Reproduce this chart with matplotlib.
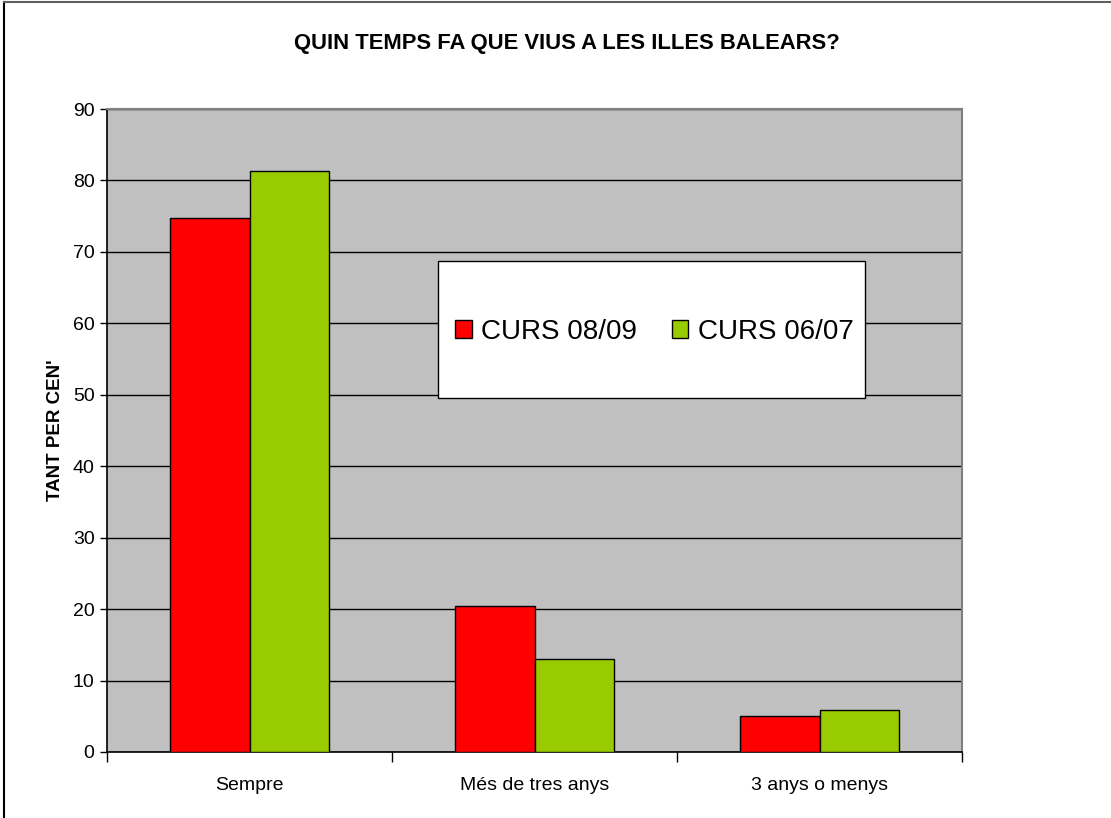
import matplotlib
matplotlib.use("Agg")
import matplotlib.pyplot as plt
import numpy as np
from matplotlib.lines import Line2D
from matplotlib.patches import Rectangle

categories = ["Sempre", "Més de tres anys", "3 anys o menys"]
series_names = ["CURS 08/09", "CURS 06/07"]
curs_0809 = [74.8, 20.4, 5.1]
curs_0607 = [81.3, 13.0, 5.9]
colors = ["#FF0000", "#99CC00"]
yticks = list(range(0, 100, 10))

plt.rcParams['font.family'] = ['Liberation Sans', 'DejaVu Sans']

W, H = 1111, 818
fig = plt.figure(figsize=(W / 100, H / 100), dpi=100)
fig.patch.set_facecolor("white")

# outer chart border (left and top visible)
fig.add_artist(Line2D([4 / W, 4 / W], [0, 1 - 2 / H], color="black", lw=1.5, transform=fig.transFigure))
fig.add_artist(Line2D([4 / W, 1], [1 - 2 / H, 1 - 2 / H], color="#606060", lw=1.5, transform=fig.transFigure))

left, right, top, bottom = 107 / W, 962 / W, 109 / H, 752 / H
ax = fig.add_axes([left, 1 - bottom, right - left, bottom - top])
ax.set_facecolor("#C0C0C0")

x = np.arange(len(categories))
bw = 0.28
ax.bar(x - bw / 2, curs_0809, width=bw, color=colors[0], edgecolor="black", linewidth=1, label=series_names[0], zorder=3)
ax.bar(x + bw / 2, curs_0607, width=bw, color=colors[1], edgecolor="black", linewidth=1, label=series_names[1], zorder=3)

ax.set_xlim(-0.5, len(categories) - 0.5)
ax.set_ylim(0, 90)
ax.set_yticks(yticks)
ax.set_yticklabels([str(v) for v in yticks], fontsize=14)
ax.yaxis.grid(True, color="black", linewidth=1, zorder=1)
ax.set_axisbelow(True)

ax.set_xticks(x)
ax.set_xticklabels(categories, fontsize=14)
ax.tick_params(axis="x", length=0, pad=18)
ax.set_xticks(np.arange(-0.5, len(categories), 1), minor=True)
ax.tick_params(axis="x", which="minor", length=7, width=1, color="black")
ax.tick_params(axis="y", length=5, width=1, color="black", pad=4)

for s in ["top", "right"]:
    ax.spines[s].set_color("#808080")
    ax.spines[s].set_linewidth(1.5)
for s in ["left", "bottom"]:
    ax.spines[s].set_color("black")
    ax.spines[s].set_linewidth(1.2)

ax.set_ylabel("TANT PER CEN'", fontsize=13.5, fontweight="bold", labelpad=6)

fig.text(567 / W, 1 - 43 / H, "QUIN TEMPS FA QUE VIUS A LES ILLES BALEARS?",
         ha="center", va="center", fontsize=15.8, fontweight="bold")

# legend box
ax.add_patch(Rectangle((0.387, 0.551), 0.5, 0.213, transform=ax.transAxes,
                       facecolor="white", edgecolor="black", linewidth=1, zorder=4))
leg = ax.legend(loc="center", bbox_to_anchor=(0.640, 0.6535),
                ncol=2, fontsize=20, frameon=False,
                handlelength=0.6, handleheight=0.6, handletextpad=0.33, columnspacing=1.26,
                borderaxespad=0)
leg.set_zorder(5)

fig.savefig("out.png", dpi=100, facecolor="white")
